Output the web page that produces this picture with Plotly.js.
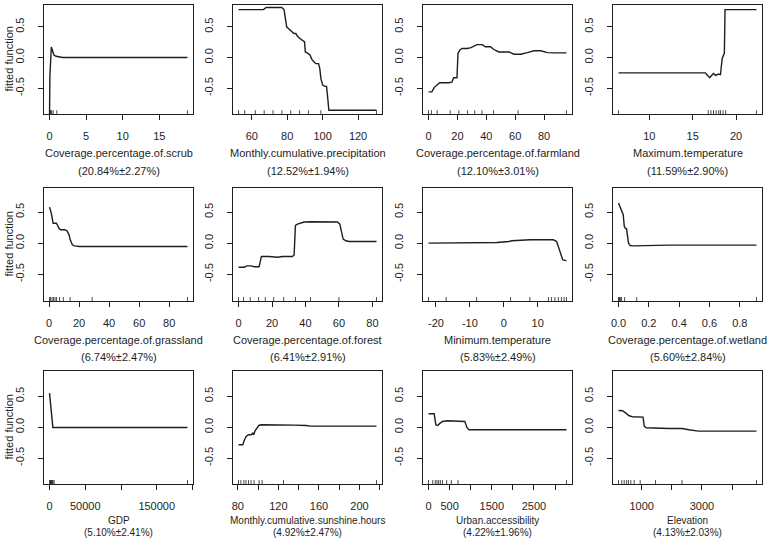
<!DOCTYPE html>
<html>
<head>
<meta charset="utf-8">
<script src="https://cdn.plot.ly/plotly-3.0.1.min.js"></script>
<style>html,body{margin:0;padding:0;background:#fff}#chart{width:767px;height:542px}</style>
</head>
<body>
<div id="chart"></div>
<script>
// ---------- data ----------
const varNames = ["Coverage.percentage.of.scrub","Monthly.cumulative.precipitation","Coverage.percentage.of.farmland","Maximum.temperature",
  "Coverage.percentage.of.grassland","Coverage.percentage.of.forest","Minimum.temperature","Coverage.percentage.of.wetland",
  "GDP","Monthly.cumulative.sunshine.hours","Urban.accessibility","Elevation"];
const importance = ["(20.84%±2.27%)","(12.52%±1.94%)","(12.10%±3.01%)","(11.59%±2.90%)",
  "(6.74%±2.47%)","(6.41%±2.91%)","(5.83%±2.49%)","(5.60%±2.84%)",
  "(5.10%±2.41%)","(4.92%±2.47%)","(4.22%±1.96%)","(4.13%±2.03%)"];

const scrubX = [0,0.05,0.25,0.4,0.6,0.9,1.3,1.8,5,10,18.85];
const scrubY = [-0.95,-0.3,0.17,0.12,0.04,0.02,0.015,0.0,0.0,0.0,0.0];
const scrubRug = [0,0.05,0.1,0.2,0.3,0.5,1.0,18.85];

const precipX = [52.5,66.6,68.1,76.9,78.2,79.3,79.7,80.8,81.6,82.5,83.8,84.9,85.7,87.2,89.1,89.8,90.2,91.3,92.8,93.9,95.1,96.2,97.7,98.4,99.0,100,101.3,102.2,103.0,103.5,130.4];
const precipY = [0.78,0.78,0.815,0.815,0.78,0.61,0.5,0.47,0.445,0.42,0.39,0.39,0.35,0.31,0.27,0.255,0.09,0.076,0.04,-0.03,-0.07,-0.1,-0.1,-0.18,-0.34,-0.45,-0.47,-0.47,-0.70,-0.86,-0.86];
const precipRug = [52.5,56,62,67,72,77,82,87,92,99,130.4];

const farmX = [0,2.3,3.9,5.8,7.7,13.9,16.2,17.4,19.7,20.4,21.6,23.2,26.7,29.4,33.6,37.1,39.4,42.9,45.2,48.7,55.7,59.1,63.8,68.4,73,77.7,82.3,87,95.5];
const farmY = [-0.56,-0.56,-0.49,-0.45,-0.41,-0.41,-0.40,-0.33,-0.33,0.065,0.12,0.147,0.147,0.16,0.21,0.21,0.174,0.174,0.13,0.09,0.09,0.054,0.054,0.08,0.11,0.11,0.08,0.076,0.076];
const farmRug = [0,2,6,15,21,27,32,37,45,62,95.5];

const tmaxX = [6.46,16.46,16.7,16.96,17.2,17.4,17.65,17.96,18.2,18.4,18.6,18.65,18.73,22.35];
const tmaxY = [-0.25,-0.25,-0.29,-0.33,-0.29,-0.26,-0.29,-0.27,-0.28,-0.016,0.054,0.065,0.78,0.78];
const tmaxRug = [6.46,16.8,17.1,17.4,17.7,18.0,18.2,18.5,18.8,22.35];

const grassX = [0.3,1.5,2.7,4.9,6.6,7.5,10.4,11.9,13.3,14.1,15.5,17,20.3,92.2];
const grassY = [0.58,0.48,0.32,0.32,0.24,0.215,0.215,0.20,0.134,0.054,-0.027,-0.043,-0.054,-0.054];
const grassRug = [0.3,1,2,3,4,5,7,9.5,14,28.7,92.2];

const forestX = [0,3.4,5,7.4,9.4,12.3,12.9,13.7,18.3,23.3,26.3,32.2,33.2,34,35.2,37.2,39.2,43.2,59.1,60.5,61.5,62.5,64.1,66,82.4];
const forestY = [-0.387,-0.387,-0.366,-0.366,-0.38,-0.38,-0.306,-0.215,-0.215,-0.226,-0.215,-0.215,-0.19,0.285,0.306,0.32,0.34,0.344,0.34,0.306,0.16,0.065,0.038,0.027,0.027];
const forestRug = [0,3,7,12,16,21,27,34,43,60,82.4];

const tminX = [-22.2,-2,1.5,2.4,7.8,14.6,15.6,16.6,17.4,18.5];
const tminY = [0.0,0.01,0.027,0.038,0.054,0.054,0.027,-0.134,-0.269,-0.28];
const tminRug = [-22.2,-17,-8,2,7.7,13.2,14.1,15.1,16.1,17,17.8,18.5];

const wetX = [0,0.009,0.022,0.031,0.038,0.044,0.053,0.06,0.066,0.077,0.093,0.336,0.91];
const wetY = [0.645,0.59,0.50,0.457,0.27,0.242,0.231,0.134,0.0,-0.038,-0.043,-0.032,-0.032];
const wetRug = [0,0.003,0.007,0.012,0.02,0.04,0.12,0.91];

const gdpX = [0,4670,193000];
const gdpY = [0.55,-0.005,-0.005];
const gdpRug = [300,800,1200,1800,2500,3200,4000,5000,6500,193000];

const sunX = [80.7,84.9,86.6,88.2,90.5,93.1,94.8,95.7,97,99,100.7,103,116,132.5,135.7,147.2,152,216.7];
const sunY = [-0.286,-0.286,-0.205,-0.151,-0.124,-0.124,-0.097,-0.124,-0.059,-0.016,0.027,0.038,0.038,0.043,0.032,0.027,0.016,0.016];
const sunRug = [80.7,83,86,88,90.5,93,96,101,104,125,216.7];

const urbanX = [0,134,174,213,276,332,450,766,861,909,964,3270];
const urbanY = [0.216,0.216,0.038,0.027,0.065,0.092,0.103,0.092,0.092,-0.005,-0.043,-0.043];
const urbanRug = [0,100,160,200,240,280,330,430,540,700,3270];

const elevX = [231,363,473,582,692,934,1044,1088,1154,1901,2341,2561,2890,4813];
const elevY = [0.27,0.265,0.227,0.184,0.168,0.162,0.162,0.011,-0.011,-0.022,-0.022,-0.043,-0.065,-0.065];
const elevRug = [231,340,420,500,560,640,750,950,1460,2340,4813];

const xTickVals = [[0,5,10,15],[60,80,100,120],[0,20,40,60,80],[10,15,20],
  [0,20,40,60,80],[0,20,40,60,80],[-20,-10,0,10],[0,0.2,0.4,0.6,0.8],
  [0,50000,100000,150000,200000],[80,100,120,140,160,180,200,220],[0,500,1000,1500,2000,2500,3000],[1000,2000,3000,4000]];
const xTickText = [["0","5","10","15"],["60","80","100","120"],["0","20","40","60","80"],["10","15","20"],
  ["0","20","40","60","80"],["0","20","40","60","80"],["-20","-10","0","10"],["0.0","0.2","0.4","0.6","0.8"],
  ["0","50000","","150000",""],["80","","120","","160","","200",""],["0","500","","1500","","2500",""],["1000","","3000",""]];
const yTickVals = [-0.5,0,0.5];
const yTickText = ["-0.5","0.0","0.5"];
const yTitle = "fitted function";

// ---------- layout ----------
const W = 767, H = 542;
const xsAll = [scrubX,precipX,farmX,tmaxX,grassX,forestX,tminX,wetX,gdpX,sunX,urbanX,elevX];
const ysAll = [scrubY,precipY,farmY,tmaxY,grassY,forestY,tminY,wetY,gdpY,sunY,urbanY,elevY];
const rugAll = [scrubRug,precipRug,farmRug,tmaxRug,grassRug,forestRug,tminRug,wetRug,gdpRug,sunRug,urbanRug,elevRug];

const colPx = [[44,193],[233,382],[423,572],[613,762]];
const rowPx = [[5,114],[188,301],[371,484]];
const rowYRange = [[-0.92,0.855],[-0.93,0.887],[-0.92,0.908]];
const titleY = [[153,171],[340,357],[520,532]];
const titleSize = [11,11,10];

const ink = '#1e1e1e';
const layout = {
  width: W, height: H, margin: {l:0,r:0,t:0,b:0},
  paper_bgcolor: '#fff', plot_bgcolor: '#fff', showlegend: false,
  font: {family: 'Liberation Sans, Arial, sans-serif', size: 11, color: ink},
  shapes: [], annotations: []
};
const traces = [];
for (let i = 0; i < 12; i++) {
  const r = Math.floor(i/4), c = i % 4;
  const n = i === 0 ? '' : String(i+1);
  const xs = xsAll[i];
  const mn = Math.min(...xs), mx = Math.max(...xs), ext = 0.04*(mx-mn);
  layout['xaxis'+n] = {
    domain: [colPx[c][0]/W, colPx[c][1]/W], anchor: 'y'+n,
    range: [mn-ext, mx+ext], tickmode: 'array', tickvals: xTickVals[i], ticktext: xTickText[i],
    ticks: 'outside', ticklen: 5, tickwidth: 1, tickcolor: ink, ticklabelstandoff: 7,
    showline: true, mirror: true, linecolor: ink, linewidth: 1,
    showgrid: false, zeroline: false, tickfont: {size: 11, color: ink}
  };
  layout['yaxis'+n] = {
    domain: [1-rowPx[r][1]/H, 1-rowPx[r][0]/H], anchor: 'x'+n,
    range: rowYRange[r], tickmode: 'array', tickvals: yTickVals, ticktext: yTickText, tickangle: -90,
    ticks: 'outside', ticklen: 5, tickwidth: 1, tickcolor: ink, ticklabelstandoff: 10,
    showline: true, mirror: true, linecolor: ink, linewidth: 1,
    showgrid: false, zeroline: false, tickfont: {size: 11, color: ink}
  };
  traces.push({x: xs, y: ysAll[i], xaxis: 'x'+n, yaxis: 'y'+n, mode: 'lines',
    line: {color: ink, width: 1.4}, hoverinfo: 'skip'});
  rugAll[i].forEach(v => layout.shapes.push({type: 'line', xref: 'x'+n, yref: 'y'+n+' domain',
    x0: v, x1: v, y0: 0, y1: 0.035, line: {color: ink, width: 0.8}}));
  const cx = (colPx[c][0]+colPx[c][1])/2/W;
  layout.annotations.push({text: varNames[i], xref: 'paper', yref: 'paper', x: cx, y: 1-titleY[r][0]/H,
    xanchor: 'center', yanchor: 'middle', showarrow: false, font: {size: titleSize[r], color: ink}});
  layout.annotations.push({text: importance[i], xref: 'paper', yref: 'paper', x: cx, y: 1-titleY[r][1]/H,
    xanchor: 'center', yanchor: 'middle', showarrow: false, font: {size: titleSize[r], color: ink}});
  if (c === 0) {
    layout.annotations.push({text: yTitle, xref: 'paper', yref: 'paper', x: 8/W,
      y: 1-(rowPx[r][0]+rowPx[r][1])/2/H, xanchor: 'center', yanchor: 'middle', textangle: -90,
      showarrow: false, font: {size: 11, color: ink}});
  }
}
Plotly.newPlot('chart', traces, layout, {staticPlot: true, displayModeBar: false});
</script>
</body>
</html>
